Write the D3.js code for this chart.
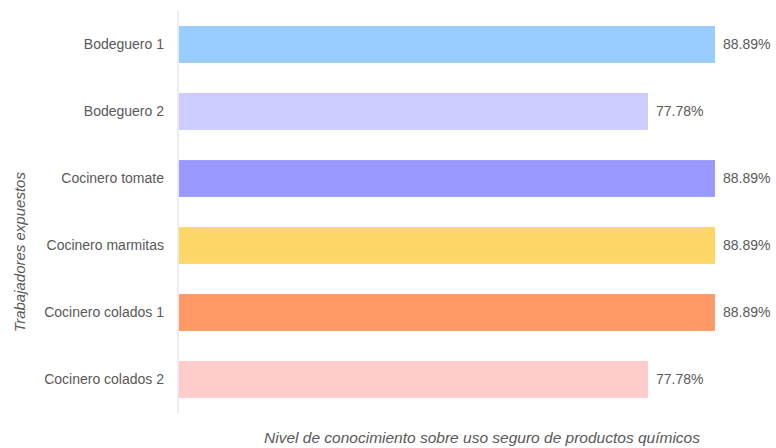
<!DOCTYPE html>
<html>
<head>
<meta charset="utf-8">
<script src="https://cdn.jsdelivr.net/npm/d3@7"></script>
<style>
  body { margin: 0; background: #fff; }
  text { font-family: "Liberation Sans", Arial, sans-serif; fill: #595959; }
</style>
</head>
<body>
<svg id="chart" width="776" height="448"></svg>
<script>
const categories = ["Bodeguero 1", "Bodeguero 2", "Cocinero tomate", "Cocinero marmitas", "Cocinero colados 1", "Cocinero colados 2"];
const values = [88.89, 77.78, 88.89, 88.89, 88.89, 77.78];
const colors = ["#99CCFF", "#CCCCFF", "#9999FF", "#FDD868", "#FF9966", "#FFCCCC"];

const svg = d3.select("#chart");

const x = d3.scaleLinear()
  .domain([0, 88.89])
  .range([179, 715]);

const y = d3.scaleBand()
  .domain(categories)
  .range([11, 413])
  .paddingInner(0.45)
  .paddingOuter(0.225);

// bars
svg.selectAll(".bar")
  .data(values)
  .enter().append("rect")
  .attr("class", "bar")
  .attr("x", x(0))
  .attr("y", (d, i) => y(categories[i]))
  .attr("width", d => x(d) - x(0))
  .attr("height", y.bandwidth())
  .attr("fill", (d, i) => colors[i]);

// value labels
svg.selectAll(".val")
  .data(values)
  .enter().append("text")
  .attr("class", "val")
  .attr("x", d => x(d) + 8)
  .attr("y", (d, i) => y(categories[i]) + y.bandwidth() / 2)
  .attr("dy", "0.35em")
  .style("font-size", "14px")
  .text(d => d.toFixed(2) + "%");

// category axis
const yAxis = svg.append("g")
  .attr("transform", `translate(${x(0) - 1},0)`)
  .call(d3.axisLeft(y).tickSize(0).tickPadding(14));
yAxis.select(".domain").attr("stroke", "#d9d9d9").attr("d", "M0,11V413");
yAxis.selectAll("text")
  .style("font-size", "14px")
  .attr("fill", "#595959");

// axis titles
svg.append("text")
  .attr("transform", "translate(25,252) rotate(-90)")
  .attr("text-anchor", "middle")
  .style("font-size", "15px")
  .style("font-style", "italic")
  .text("Trabajadores  expuestos");

svg.append("text")
  .attr("x", 482)
  .attr("y", 443)
  .attr("text-anchor", "middle")
  .style("font-size", "15.5px")
  .style("font-style", "italic")
  .text("Nivel de conocimiento sobre uso seguro de productos químicos");
</script>
</body>
</html>
